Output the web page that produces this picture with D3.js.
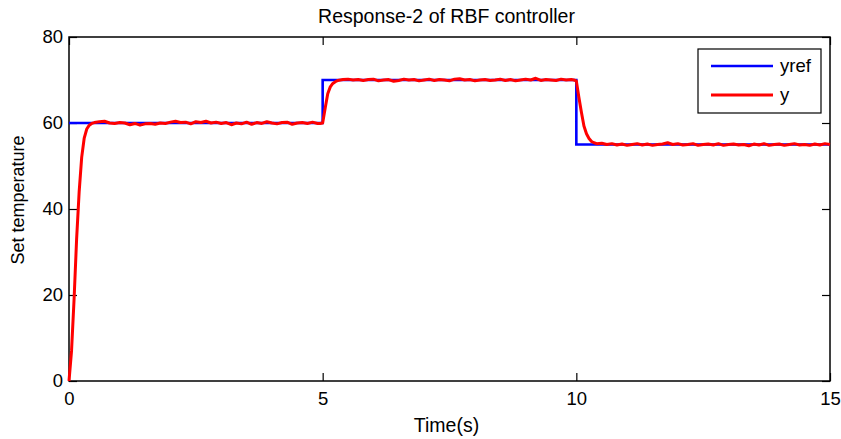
<!DOCTYPE html>
<html>
<head>
<meta charset="utf-8">
<script src="https://cdn.jsdelivr.net/npm/d3@7"></script>
<style>
    body { margin: 0; background: #fff; }
    #responseGraph { width: 841px; height: 439px; }
    text { font-family: "Liberation Sans", Arial, sans-serif; fill: #000; }
</style>
</head>
<body>
<div id="responseGraph"></div>
<script>
// reference signal (step changes)
let refTime = [0, 5, 5, 10, 10, 15]
let refValue = [60, 60, 70, 70, 55, 55]

let outTime = [0, 0.05, 0.1, 0.15, 0.2, 0.25, 0.3, 0.35, 0.4, 0.45, 0.5,
    0.6, 0.7, 0.8, 0.9, 1.0, 1.1, 1.2, 1.3, 1.4, 1.5, 1.6, 1.7, 1.8, 1.9,
    2.0, 2.1, 2.2, 2.3, 2.4, 2.5, 2.6, 2.7, 2.8, 2.9, 3.0, 3.1, 3.2, 3.3, 3.4,
    3.5, 3.6, 3.7, 3.8, 3.9, 4.0, 4.1, 4.2, 4.3, 4.4, 4.5, 4.6, 4.7, 4.8, 4.9,
    4.95, 5.0, 5.05, 5.1, 5.15, 5.2, 5.25, 5.3,
    5.4, 5.5, 5.6, 5.7, 5.8, 5.9, 6.0, 6.1, 6.2, 6.3, 6.4, 6.5, 6.6, 6.7, 6.8, 6.9,
    7.0, 7.1, 7.2, 7.3, 7.4, 7.5, 7.6, 7.7, 7.8, 7.9, 8.0, 8.1, 8.2, 8.3, 8.4,
    8.5, 8.6, 8.7, 8.8, 8.9, 9.0, 9.1, 9.2, 9.3, 9.4, 9.5, 9.6, 9.7, 9.8, 9.9,
    9.95, 10.0, 10.05, 10.1, 10.15, 10.2, 10.25, 10.3, 10.35, 10.4,
    10.5, 10.6, 10.7, 10.8, 10.9, 11.0, 11.1, 11.2, 11.3, 11.4, 11.5, 11.6, 11.7,
    11.8, 11.9, 12.0, 12.1, 12.2, 12.3, 12.4, 12.5, 12.6, 12.7, 12.8, 12.9, 13.0,
    13.1, 13.2, 13.3, 13.4, 13.5, 13.6, 13.7, 13.8, 13.9, 14.0, 14.1, 14.2, 14.3,
    14.4, 14.5, 14.6, 14.7, 14.8, 14.9, 15.0]
let outValue = [0, 7, 19, 33, 44, 52, 56.5, 58.6, 59.5, 59.9, 60.1,
    60.3, 60.4, 60.0, 59.9, 60.1, 60.0, 59.6, 59.9, 59.5, 59.8, 59.9, 59.7, 60.0, 59.9,
    60.2, 60.4, 60.1, 60.2, 59.8, 60.3, 60.1, 60.4, 60.0, 60.2, 59.9, 60.1, 59.6, 60.0, 59.8,
    60.2, 59.7, 60.1, 59.9, 60.3, 60.0, 59.8, 60.1, 60.2, 59.7, 60.0, 60.1, 59.9, 60.2, 59.9,
    59.9, 60.0, 63.5, 66.8, 68.4, 69.2, 69.6, 69.9,
    70.1, 70.2, 70.0, 70.1, 69.9, 70.1, 70.2, 69.8, 70.0, 70.1, 69.7, 69.9, 70.2, 70.0, 70.1, 69.8,
    70.0, 70.2, 69.9, 70.1, 70.0, 69.8, 70.2, 70.3, 70.0, 70.1, 69.8, 70.0, 70.1, 69.9, 70.0,
    70.2, 69.9, 70.1, 69.8, 70.0, 70.2, 70.0, 70.4, 69.9, 70.1, 70.0, 69.9, 70.2, 70.0, 70.1,
    70.0, 69.8, 66.0, 62.5, 59.3, 57.5, 56.4, 55.7, 55.4, 55.2,
    55.3, 55.0, 55.2, 54.9, 55.1, 54.8, 55.0, 55.2, 54.9, 55.1, 54.8, 55.0, 55.1,
    55.4, 55.0, 55.2, 54.9, 55.0, 55.2, 54.8, 55.0, 55.1, 54.9, 55.2, 54.8, 55.0,
    55.1, 54.9, 55.0, 54.7, 55.1, 54.9, 55.2, 54.8, 55.0, 55.1, 54.8, 55.0, 55.2,
    54.9, 55.0, 54.8, 55.1, 54.9, 55.2, 55.0]

let xTicks = [0, 5, 10, 15]
let yTicks = [0, 20, 40, 60, 80]
let seriesNames = ['yref', 'y']
let seriesColors = ['#0000ff', '#ff0000']

class LineVis {
    constructor(parentElement) {
        this.parentElement = parentElement;
        this.initVis()
    }

    initVis() {
        let vis = this;

        // define dimensions
        vis.margin = {top: 37, right: 11, bottom: 58, left: 69};
        vis.width = 841 - vis.margin.left - vis.margin.right;
        vis.height = 439 - vis.margin.top - vis.margin.bottom;

        vis.svg = d3.select("#" + vis.parentElement).append("svg")
            .attr("width", 841)
            .attr("height", 439)
            .append('g')
            .attr('transform', `translate (${vis.margin.left}, ${vis.margin.top})`);

        // scales
        vis.x = d3.scaleLinear().domain([0, 15]).range([0, vis.width]);
        vis.y = d3.scaleLinear().domain([0, 80]).range([vis.height, 0]);

        // title + labels
        vis.svg.append('text')
            .text('Response-2 of RBF controller')
            .attr('x', vis.width / 2 - 3)
            .attr('y', -14)
            .attr('text-anchor', 'middle')
            .style('font-size', '19.5px');

        vis.svg.append('text')
            .text('Time(s)')
            .attr('x', vis.width / 2 - 3)
            .attr('y', vis.height + 51)
            .attr('text-anchor', 'middle')
            .style('font-size', '19.5px');

        vis.svg.append('text')
            .text('Set temperature')
            .attr('transform', `translate(-45, ${vis.height / 2 - 9}) rotate(-90)`)
            .attr('text-anchor', 'middle')
            .style('font-size', '18px');

        this.updateVis()
    }

    updateVis() {
        let vis = this;

        let tickLen = 8

        // axes, ticks pointing inward on all four sides
        vis.svg.append("g")
            .attr("class", "axis axis--x")
            .attr("transform", "translate(0," + vis.height + ")")
            .call(d3.axisBottom(vis.x).tickValues(xTicks).tickSizeInner(-tickLen).tickSizeOuter(0).tickPadding(11));
        vis.svg.append("g")
            .attr("class", "axis axis--x-top")
            .call(d3.axisTop(vis.x).tickValues(xTicks).tickSizeInner(-tickLen).tickSizeOuter(0).tickFormat(''));
        vis.svg.append("g")
            .attr("class", "axis axis--y")
            .call(d3.axisLeft(vis.y).tickValues(yTicks).tickSizeInner(-tickLen).tickSizeOuter(0).tickPadding(6));
        vis.svg.append("g")
            .attr("class", "axis axis--y-right")
            .attr("transform", "translate(" + vis.width + ",0)")
            .call(d3.axisRight(vis.y).tickValues(yTicks).tickSizeInner(-tickLen).tickSizeOuter(0).tickFormat(''));

        vis.svg.selectAll('.axis .domain').remove()
        vis.svg.selectAll('.axis line').attr('stroke', '#000').attr('stroke-width', 1.2)
        vis.svg.selectAll('.axis text')
            .style('font-family', '"Liberation Sans", Arial, sans-serif')
            .style('font-size', '18.5px')
            .attr('fill', '#000')

        // box
        vis.svg.append('rect')
            .attr('x', 0)
            .attr('y', 0)
            .attr('width', vis.width)
            .attr('height', vis.height)
            .attr('fill', 'none')
            .attr('stroke', '#000')
            .attr('stroke-width', 1.5);

        let line = d3.line()
            .x(d => vis.x(d[0]))
            .y(d => vis.y(d[1]))

        let refData = refTime.map((t, i) => [t, refValue[i]])
        let outData = outTime.map((t, i) => [t, outValue[i]])

        vis.svg.append('path')
            .datum(refData)
            .attr('d', line)
            .attr('fill', 'none')
            .attr('stroke', seriesColors[0])
            .attr('stroke-width', 2.6);

        vis.svg.append('path')
            .datum(outData)
            .attr('d', line)
            .attr('fill', 'none')
            .attr('stroke', seriesColors[1])
            .attr('stroke-width', 3)
            .attr('stroke-linejoin', 'round');

        // legend
        let legend = vis.svg.append('g')
            .attr('transform', `translate(${698 - vis.margin.left}, ${49 - vis.margin.top})`)
        legend.append('rect')
            .attr('width', 123)
            .attr('height', 64)
            .attr('fill', '#fff')
            .attr('stroke', '#000')
            .attr('stroke-width', 1.2)
        seriesNames.forEach(function (name, i) {
            legend.append('line')
                .attr('x1', 13)
                .attr('x2', 75)
                .attr('y1', 17 + i * 29)
                .attr('y2', 17 + i * 29)
                .attr('stroke', seriesColors[i])
                .attr('stroke-width', i === 0 ? 2.6 : 3)
            legend.append('text')
                .text(name)
                .attr('x', 82)
                .attr('y', 23 + i * 29)
                .style('font-size', '18.5px')
        })
    }
}

let lineChart = new LineVis('responseGraph')
</script>
</body>
</html>
